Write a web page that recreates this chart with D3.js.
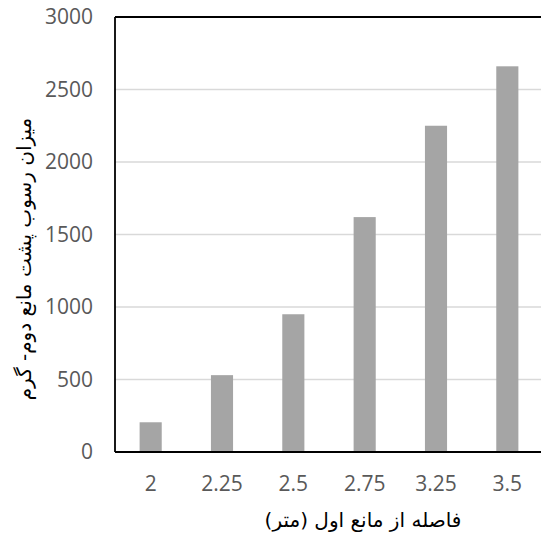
<!DOCTYPE html>
<html>
<head>
<meta charset="utf-8">
<script src="https://cdn.jsdelivr.net/npm/d3@7"></script>
<style>
  body { margin: 0; background: #fff; }
</style>
</head>
<body>
<svg id="chart"></svg>
<script>
// categories and values
var distances = ["2", "2.25", "2.5", "2.75", "3.25", "3.5"];
var sediment = [205, 530, 950, 1620, 2250, 2660];
var yTicks = [0, 500, 1000, 1500, 2000, 2500, 3000];
var xTitle = "فاصله از مانع اول (متر)";
var yTitle = "میزان رسوب پشت مانع دوم- گرم";

var width = 541;
var height = 537;
var margin = {top: 17, right: -2, bottom: 85, left: 115};

var svg = d3.select("#chart")
  .attr("width", width)
  .attr("height", height);

var x = d3.scaleBand()
  .domain(distances)
  .range([margin.left, width - margin.right])
  .paddingInner(0.69)
  .paddingOuter(0.345);

var y = d3.scaleLinear()
  .domain([0, 3000])
  .range([height - margin.bottom, margin.top]);

// gridlines
svg.append("g")
  .selectAll("line")
  .data(yTicks.slice(1))
  .enter()
  .append("line")
  .attr("x1", margin.left)
  .attr("x2", width)
  .attr("y1", function(d){ return y(d); })
  .attr("y2", function(d){ return y(d); })
  .attr("stroke", "#d9d9d9")
  .attr("stroke-width", 1.5);

// bars
svg.append("g")
  .selectAll("rect")
  .data(sediment)
  .enter()
  .append("rect")
  .attr("x", function(d, i){ return x(distances[i]); })
  .attr("y", function(d){ return y(d); })
  .attr("width", x.bandwidth())
  .attr("height", function(d){ return y(0) - y(d); })
  .attr("fill", "#a5a5a5");

// frame: left, top, bottom
svg.append("line")
  .attr("x1", margin.left).attr("x2", margin.left)
  .attr("y1", y(3000)).attr("y2", y(0))
  .attr("stroke", "#000").attr("stroke-width", 1.8);
svg.append("line")
  .attr("x1", margin.left).attr("x2", width)
  .attr("y1", y(3000)).attr("y2", y(3000))
  .attr("stroke", "#000").attr("stroke-width", 1.8);
svg.append("line")
  .attr("x1", margin.left).attr("x2", width)
  .attr("y1", y(0)).attr("y2", y(0))
  .attr("stroke", "#000").attr("stroke-width", 2);

// y tick labels
var yAxis = svg.append("g")
  .attr("transform", "translate(" + (margin.left - 22) + ",0)")
  .call(d3.axisLeft(y).tickValues(yTicks).tickFormat(d3.format("d")).tickSize(0).tickPadding(0));
yAxis.select(".domain").remove();
yAxis.attr("font-family", "'Open Sans', sans-serif").attr("font-size", 21);
yAxis.selectAll("text")
  .attr("fill", "#595959");

// x tick labels
var xAxis = svg.append("g")
  .attr("transform", "translate(0," + y(0) + ")")
  .call(d3.axisBottom(x).tickSize(0).tickPadding(0));
xAxis.select(".domain").remove();
xAxis.attr("font-family", "'Open Sans', sans-serif").attr("font-size", 21);
xAxis.selectAll("text")
  .attr("dy", null)
  .attr("y", 39)
  .attr("fill", "#595959");

// axis titles
svg.append("text")
  .attr("x", 363)
  .attr("y", 527)
  .attr("text-anchor", "middle")
  .attr("direction", "rtl")
  .attr("font-family", "'DejaVu Sans', sans-serif")
  .attr("font-size", 20)
  .attr("fill", "#000")
  .text(xTitle);

svg.append("text")
  .attr("transform", "translate(31,259) rotate(-90)")
  .attr("text-anchor", "middle")
  .attr("direction", "rtl")
  .attr("font-family", "'DejaVu Sans', sans-serif")
  .attr("font-size", 20)
  .attr("fill", "#000")
  .text(yTitle);
</script>
</body>
</html>
